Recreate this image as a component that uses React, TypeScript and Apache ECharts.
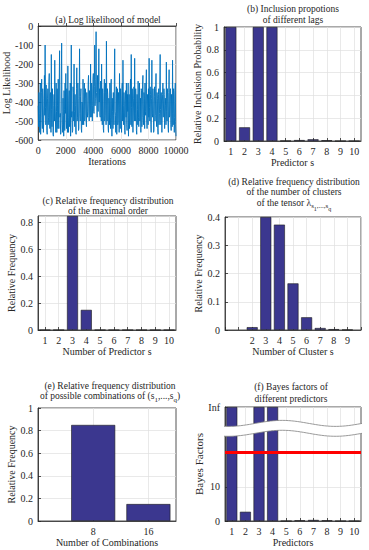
import React, { useEffect, useRef } from "react";
import * as echarts from "echarts";

const FONT = "Liberation Serif";
const INK = "#262626";
const GRIDLINE = "#e0e0e0";
const BAR_FILL = "#3b378f";
const BAR_EDGE = "#1c1c1c";
const LINE_BLUE = "#0072bd";

// (a) log likelihood trace, one reading every 25 iterations
const iterationStep = 25;
const logLikelihood = [
  -420, -530, -350, -460, -560, -410, -300, -570, -480, -350, -280, -500, -540, -330, -380, -560, -500, -420, -260, -470,
  -100, -430, -520, -310, -400, -550, -570, -380, -330, -520, -480, -290, -250, -510, -540, -360, -350, -560, -150, -440,
  -530, -330, -400, -570, -580, -420, -360, -500, -180, -420, -500, -560, -300, -450, -560, -330, -420, -540, -280, -490,
  -540, -300, -130, -480, -460, -570, -560, -300, -90, -450, -520, -560, -380, -470, -580, -340, -440, -550, -300, -460,
  -250, -500, -540, -330, -420, -560, -210, -480, -560, -390, -340, -530, -500, -300, -580, -440, -100, -480, -450, -560,
  -550, -320, -350, -500, -200, -450, -530, -360, -420, -560, -570, -330, -220, -500, -480, -300, -380, -550, -540, -370,
  -120, -460, -500, -370, -330, -540, -560, -400, -410, -520, -280, -490, -520, -350, -300, -500, -470, -330, -380, -500,
  -530, -350, -350, -480, -450, -300, -260, -470, -500, -340, -380, -480, -200, -420, -480, -300, -330, -500, -420, -280,
  -250, -450, -460, -320, -100, -420, -380, -280, -30, -350, -400, -480, -260, -380, -450, -300, -120, -400, -330, -470,
  -480, -290, -300, -500, -200, -430, -520, -330, -380, -540, -560, -350, -280, -500, -470, -300, -350, -520, -80, -420,
  -500, -330, -360, -540, -560, -380, -420, -520, -300, -480, -540, -310, -280, -500, -580, -380, -450, -540, -350, -470,
  -520, -300, -120, -450, -470, -560, -380, -320, -570, -460, -330, -520, -500, -350, -420, -560, -250, -430, -540, -330,
  -380, -520, -560, -330, -300, -500, -180, -420, -520, -350, -400, -550, -570, -390, -340, -480, -300, -520, -550, -360,
  -450, -300, -580, -470, -360, -540, -480, -320, -280, -520, -150, -430, -530, -330, -400, -560, -560, -380, -320, -500,
  -170, -460, -500, -330, -380, -550, -570, -360, -440, -520, -290, -480, -530, -350, -300, -500, -450, -380, -560, -330,
  -340, -530, -480, -300, -260, -470, -520, -350, -380, -540, -300, -450, -470, -320, -230, -500, -540, -360, -400, -520,
  -330, -480, -170, -430, -500, -320, -360, -520, -560, -380, -180, -460, -480, -330, -400, -560, -550, -370, -320, -500,
  -470, -330, -250, -500, -530, -350, -380, -540, -570, -360, -330, -520, -460, -300, -150, -440, -520, -350, -400, -560,
  -560, -360, -300, -480, -480, -330, -360, -540, -540, -380, -420, -520, -190, -450, -500, -330, -380, -530, -560, -350,
  -230, -480, -470, -340, -330, -520, -550, -360, -400, -530, -180, -460, -520, -330, -360, -560, -480, -340, -300, -520,
  -580,
];

// (b) inclusion proportions
const predictors = [1, 2, 3, 4, 5, 6, 7, 8, 9, 10];
const inclusionProportion = [1, 0.12, 1, 1, 0.002, 0.008, 0.015, 0.007, 0, 0];

// (c) maximal order
const maximalOrderFreq = [0, 0, 0.85, 0.15, 0, 0, 0, 0, 0, 0];
const maximalOrderAxisMax = 0.85;

// (d) number of clusters
const clusterCounts = [2, 3, 4, 5, 6, 7, 8, 9];
const clusterFreq = [0.01, 0.4, 0.373, 0.165, 0.045, 0.007, 0.003, 0.001];

// (e) combinations
const combinationPositions = [1, 2];
const combinationLabels = ["8", "16"];
const combinationFreq = [0.85, 0.15];

// (f) Bayes factors
const bayesFactors = [Infinity, 2.7, Infinity, Infinity, 0, 0.2, 0.3, 0.2, 0, 0];
const bayesThreshold = 20;
const bayesInfLevel = 33.4;
const bayesLabelValues = [0, 10, 33.4];
const bayesBreak = [25.7, 28.6];

const baseLabel = { color: INK, fontFamily: FONT, fontSize: 10, margin: 5, formatter: (v: number) => String(v) };
const baseTick = { show: true, inside: true, length: 3, lineStyle: { color: INK, width: 0.8 } };

function axis(gridIndex: number, extra: any) {
  const { axisLabel, axisTick, ...rest } = extra;
  return {
    type: "value",
    gridIndex,
    nameLocation: "middle",
    nameTextStyle: { color: INK, fontFamily: FONT, fontSize: 10 },
    axisLine: { show: true, lineStyle: { color: INK, width: 0.8 } },
    axisTick: { ...baseTick, ...(axisTick || {}) },
    axisLabel: { ...baseLabel, ...(axisLabel || {}) },
    splitLine: { show: true, lineStyle: { color: GRIDLINE, width: 0.7 } },
    ...rest,
  };
}

const barStyle = { color: BAR_FILL, borderColor: BAR_EDGE, borderWidth: 0.6 };

function titleText(x: number, y: number, text: string, lineHeight: number) {
  return {
    type: "text",
    x,
    y,
    z: 100,
    style: {
      text,
      align: "center",
      verticalAlign: "top",
      fill: INK,
      fontFamily: FONT,
      fontSize: 9.5,
      lineHeight,
      rich: {
        m: { fontFamily: FONT, fontSize: 9.5, lineHeight, verticalAlign: "top", fill: INK },
        sub: { fontFamily: FONT, fontSize: 7, lineHeight: 7, verticalAlign: "top", padding: [5, 0, 0, 0], fill: INK },
        sub2: { fontFamily: FONT, fontSize: 6, lineHeight: 6, verticalAlign: "top", padding: [8, 0, 0, 0], fill: INK },
      },
    },
  };
}

export default function App() {
  const ref = useRef<HTMLDivElement>(null);

  useEffect(() => {
    if (!ref.current) return;
    const chart = echarts.init(ref.current, undefined, { renderer: "svg" });

    const grids = [
      { left: 38, top: 26, width: 138, height: 114 },
      { left: 224, top: 27, width: 137, height: 114 },
      { left: 38, top: 216, width: 138, height: 114 },
      { left: 225, top: 217, width: 136, height: 113 },
      { left: 38, top: 408, width: 138, height: 113 },
      { left: 225, top: 407, width: 136, height: 114 },
    ].map((g) => ({ ...g, show: true, borderColor: INK, borderWidth: 0.8, backgroundColor: "#fff" }));

    const predictorAxis = (gridIndex: number, name: string) =>
      axis(gridIndex, {
        min: 0.5,
        max: 10.5,
        name,
        nameGap: 16,
        axisLabel: { customValues: predictors },
        axisTick: { customValues: predictors },
      });

    const option: any = {
      animation: false,
      backgroundColor: "#fff",
      textStyle: { fontFamily: FONT },
      grid: grids,
      xAxis: [
        axis(0, { min: 0, max: 10000, interval: 2000, name: "Iterations", nameGap: 16 }),
        predictorAxis(1, "Predictor s"),
        predictorAxis(2, "Number of Predictor s"),
        axis(3, {
          min: 0,
          max: 10,
          interval: 1,
          name: "Number of Cluster s",
          nameGap: 16,
          axisLabel: { formatter: (v: number) => (clusterCounts.includes(v) ? String(v) : "") },
        }),
        axis(4, {
          min: 0,
          max: 2.5,
          name: "Number of Combinations",
          nameGap: 16,
          axisLabel: {
            customValues: combinationPositions,
            formatter: (v: number) => combinationLabels[combinationPositions.indexOf(v)] ?? "",
          },
          axisTick: { customValues: combinationPositions },
        }),
        predictorAxis(5, "Predictors"),
      ],
      yAxis: [
        axis(0, { min: -600, max: 0, interval: 100, name: "Log Likelihood", nameGap: 25 }),
        axis(1, { min: 0, max: 1, interval: 0.2, name: "Relative Inclusion Probability", nameGap: 18 }),
        axis(2, {
          min: 0,
          max: maximalOrderAxisMax,
          interval: 0.2,
          name: "Relative Frequency",
          nameGap: 19,
          axisLabel: { showMaxLabel: false },
        }),
        axis(3, { min: 0, max: 0.4, interval: 0.1, name: "Relative Frequency", nameGap: 20 }),
        axis(4, { min: 0, max: 1, interval: 0.2, name: "Relative Frequency", nameGap: 20 }),
        axis(5, {
          min: 0,
          max: bayesInfLevel,
          name: "Bayes Factors",
          nameGap: 20,
          nameTextStyle: { color: INK, fontFamily: FONT, fontSize: 11 },
          axisLabel: {
            customValues: bayesLabelValues,
            formatter: (v: number) => (v >= bayesInfLevel ? "Inf" : String(v)),
          },
          axisTick: { customValues: bayesLabelValues },
        }),
      ],
      series: [
        {
          type: "line",
          xAxisIndex: 0,
          yAxisIndex: 0,
          showSymbol: false,
          symbol: "none",
          data: logLikelihood.map((v, i) => [i * iterationStep, v]),
          lineStyle: { color: LINE_BLUE, width: 0.9 },
        },
        {
          type: "bar",
          xAxisIndex: 1,
          yAxisIndex: 1,
          barWidth: 11,
          itemStyle: barStyle,
          data: predictors.map((p, i) => [p, inclusionProportion[i]]),
        },
        {
          type: "bar",
          xAxisIndex: 2,
          yAxisIndex: 2,
          barWidth: 11,
          itemStyle: barStyle,
          data: predictors.map((p, i) => [p, maximalOrderFreq[i]]),
        },
        {
          type: "bar",
          xAxisIndex: 3,
          yAxisIndex: 3,
          barWidth: 11,
          itemStyle: barStyle,
          data: clusterCounts.map((c, i) => [c, clusterFreq[i]]),
        },
        {
          type: "bar",
          xAxisIndex: 4,
          yAxisIndex: 4,
          barWidth: 44,
          itemStyle: barStyle,
          data: combinationPositions.map((c, i) => [c, combinationFreq[i]]),
        },
        {
          type: "bar",
          xAxisIndex: 5,
          yAxisIndex: 5,
          barWidth: 11,
          itemStyle: barStyle,
          data: predictors.map((p, i) => [p, Number.isFinite(bayesFactors[i]) ? bayesFactors[i] : bayesInfLevel]),
          markLine: {
            silent: true,
            symbol: "none",
            label: { show: false },
            lineStyle: { color: "#ff0000", width: 2.8, type: "solid" },
            data: [{ yAxis: bayesThreshold }],
          },
        },
        {
          type: "custom",
          xAxisIndex: 5,
          yAxisIndex: 5,
          z: 5,
          silent: true,
          data: [[1, bayesBreak[0], bayesBreak[1]]],
          renderItem: (params: any, api: any) => {
            const cs = params.coordSys;
            const yLow = api.coord([1, api.value(1)])[1];
            const yHigh = api.coord([1, api.value(2)])[1];
            const A = 3;
            const P = 107;
            const peak = 57;
            const upper: number[][] = [];
            const lower: number[][] = [];
            for (let px = -1; px <= cs.width + 1.01; px += 1.5) {
              const w = -A * Math.cos((2 * Math.PI * (px - peak)) / P);
              upper.push([cs.x + px, yHigh + w]);
              lower.push([cs.x + px, yLow + w]);
            }
            return {
              type: "group",
              children: [
                { type: "polygon", shape: { points: upper.concat(lower.slice().reverse()) }, style: { fill: "#fff" } },
                { type: "polyline", shape: { points: upper }, style: { stroke: "#808080", lineWidth: 0.8, fill: null } },
                { type: "polyline", shape: { points: lower }, style: { stroke: "#808080", lineWidth: 0.8, fill: null } },
              ],
            };
          },
        },
      ],
      graphic: [
        titleText(108, 14.5, "(a) Log likelihood of model", 11),
        titleText(293, 3.5, "(b) Inclusion propotions\nof different lags", 11),
        titleText(108, 195.5, "(c) Relative frequency distribution\nof the maximal order", 10.5),
        titleText(
          294,
          177,
          "(d) Relative frequency distribution\nof the number of clusters\n{m|of the tensor λ}{sub|s}{sub2|1}{sub|,...,s}{sub2|q}",
          10.3
        ),
        titleText(
          110,
          380.5,
          "(e) Relative frequency distribution\n{m|of possible combinations of (s}{sub|1}{m|,...,s}{sub|q}{m|)}",
          10.7
        ),
        titleText(291, 380.5, "(f) Bayes factors of\ndifferent predictors", 12.5),
      ],
    };

    chart.setOption(option);
    return () => chart.dispose();
  }, []);

  return (
    <div
      ref={ref}
      style={{ position: "fixed", left: 0, top: 0, width: 369, height: 550, background: "#fff" }}
    />
  );
}
